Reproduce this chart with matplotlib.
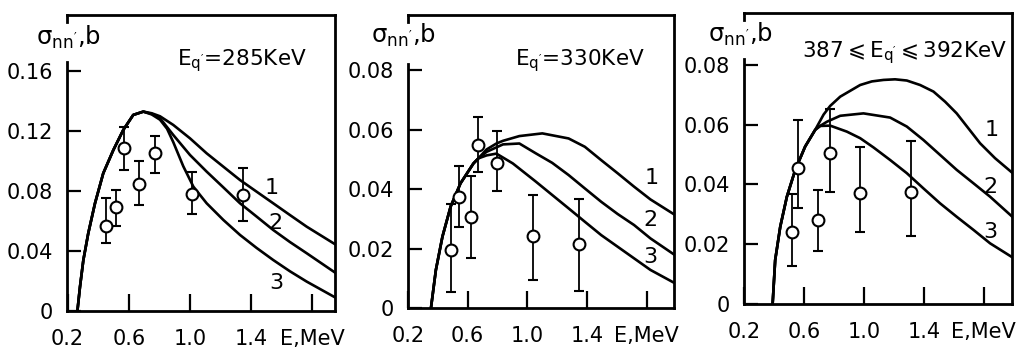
import numpy as np  # для обработки данных
import matplotlib.pyplot as plt  # для построения графиков

plt.rcParams['font.family'] = 'DejaVu Sans'
plt.rcParams['mathtext.fontset'] = 'dejavusans'

# ---- панель 1: E_q' = 285 keV ----
rise1_E = [0.264, 0.281, 0.303, 0.335, 0.379, 0.433, 0.499, 0.564, 0.629, 0.695]
rise1_s = [0.0, 0.0162, 0.034, 0.0518, 0.0718, 0.0918, 0.1073, 0.1207, 0.1307, 0.1329]
c1_1_E = [0.75, 0.804, 0.891, 1.0, 1.109, 1.218, 1.327, 1.436, 1.544, 1.653, 1.763, 1.95]
c1_1_s = [0.1318, 0.1298, 0.124, 0.1151, 0.1051, 0.0962, 0.0873, 0.0795, 0.0718, 0.064, 0.0562, 0.0444]
c1_2_E = [0.75, 0.804, 0.891, 1.0, 1.109, 1.218, 1.327, 1.436, 1.544, 1.653, 1.763, 1.95]
c1_2_s = [0.1314, 0.1285, 0.1173, 0.104, 0.0929, 0.0824, 0.0718, 0.0629, 0.054, 0.046, 0.0385, 0.0255]
c1_3_E = [0.75, 0.804, 0.85, 0.891, 0.956, 1.022, 1.109, 1.218, 1.327, 1.436, 1.544, 1.653, 1.763, 1.95]
c1_3_s = [0.131, 0.1275, 0.1215, 0.1125, 0.0965, 0.0829, 0.0718, 0.0607, 0.0507, 0.042, 0.034, 0.0265, 0.0196, 0.0090]
pt1_E = [0.451, 0.516, 0.571, 0.667, 0.771, 1.011, 1.344]
pt1_s = [0.0567, 0.0691, 0.1089, 0.0847, 0.1051, 0.078, 0.0773]
pt1_hi = [0.0751, 0.0807, 0.1229, 0.1, 0.1169, 0.0929, 0.0951]
pt1_lo = [0.0451, 0.0567, 0.094, 0.0707, 0.0922, 0.0647, 0.0602]
lab1_E = [1.534, 1.556, 1.567]
lab1_s = [0.0818, 0.0584, 0.0189]

# ---- панель 2: E_q' = 330 keV ----
rise2_E = [0.354, 0.387, 0.431, 0.486, 0.552, 0.639, 0.672]
rise2_s = [0.0, 0.0128, 0.024, 0.0341, 0.0419, 0.0486, 0.0503]
c2_1_E = [0.727, 0.793, 0.837, 0.947, 1.101, 1.277, 1.386, 1.496, 1.606, 1.716, 1.826, 1.984]
c2_1_s = [0.0533, 0.0553, 0.0562, 0.0578, 0.0587, 0.057, 0.0542, 0.0497, 0.0453, 0.0408, 0.0365, 0.0315]
c2_2_E = [0.727, 0.837, 0.947, 1.057, 1.167, 1.277, 1.386, 1.496, 1.606, 1.716, 1.826, 1.984]
c2_2_s = [0.0525, 0.055, 0.0553, 0.052, 0.0488, 0.0447, 0.0402, 0.0357, 0.0316, 0.0279, 0.0234, 0.0180]
c2_3_E = [0.727, 0.793, 0.903, 1.057, 1.167, 1.277, 1.386, 1.496, 1.606, 1.716, 1.826, 1.984]
c2_3_s = [0.0513, 0.0519, 0.0486, 0.0425, 0.038, 0.0335, 0.029, 0.0245, 0.0206, 0.0167, 0.0128, 0.0085]
pt2_E = [0.486, 0.541, 0.622, 0.672, 0.8, 1.039, 1.349]
pt2_s = [0.0195, 0.0374, 0.0307, 0.0548, 0.0486, 0.0243, 0.0215]
pt2_hi = [0.0349, 0.0477, 0.0445, 0.0643, 0.0596, 0.038, 0.0365]
pt2_lo = [0.0055, 0.0273, 0.0169, 0.0458, 0.0394, 0.0094, 0.0058]
lab2_E = [1.837, 1.826, 1.826]
lab2_s = [0.0436, 0.0296, 0.0172]

# ---- панель 3: 387 <= E_q' <= 392 keV ----
rise3_E = [0.391, 0.408, 0.442, 0.486, 0.542, 0.608, 0.675]
rise3_s = [0.0, 0.0147, 0.0259, 0.0359, 0.0449, 0.0527, 0.0583]
c3_1_E = [0.731, 0.775, 0.842, 0.975, 1.053, 1.131, 1.208, 1.286, 1.375, 1.464, 1.542, 1.619, 1.697, 1.775, 1.875, 1.988]
c3_1_s = [0.0634, 0.0663, 0.0694, 0.0733, 0.0745, 0.075, 0.0752, 0.0748, 0.0733, 0.0711, 0.0677, 0.0638, 0.0588, 0.0538, 0.0488, 0.0440]
c3_2_E = [0.708, 0.753, 0.842, 0.997, 1.175, 1.286, 1.397, 1.508, 1.619, 1.731, 1.842, 1.988]
c3_2_s = [0.0596, 0.061, 0.063, 0.0638, 0.0624, 0.0594, 0.0549, 0.0499, 0.0449, 0.0404, 0.0359, 0.0293]
c3_3_E = [0.708, 0.775, 0.886, 0.975, 1.064, 1.175, 1.286, 1.397, 1.508, 1.619, 1.731, 1.842, 1.988]
c3_3_s = [0.0596, 0.0597, 0.0577, 0.0555, 0.0524, 0.0482, 0.0438, 0.0387, 0.0337, 0.0292, 0.0248, 0.0203, 0.0157]
pt3_E = [0.519, 0.557, 0.693, 0.771, 0.975, 1.313]
pt3_s = [0.0242, 0.0454, 0.0281, 0.0507, 0.0373, 0.0376]
pt3_hi = [0.0368, 0.0616, 0.0382, 0.0652, 0.0527, 0.0547]
pt3_lo = [0.0127, 0.032, 0.0178, 0.0376, 0.0242, 0.0229]
lab3_E = [1.853, 1.842, 1.842]
lab3_s = [0.0583, 0.0393, 0.0242]

xticks = [0.2, 0.6, 1.0, 1.4, 1.8]
xticklabels = ['0.2', '0.6', '1.0', '1.4', 'E,MeV']
yticks1 = [0, 0.04, 0.08, 0.12, 0.16]
yticks1_lab = ['0', '0.04', '0.08', '0.12', '0.16']
yticks23 = [0, 0.02, 0.04, 0.06, 0.08]
yticks23_lab = ['0', '0.02', '0.04', '0.06', '0.08']

titles = [r"E$_{\mathregular{q'}}$=285KeV",
          r"E$_{\mathregular{q'}}$=330KeV",
          r"387$\leqslant$E$_{\mathregular{q'}}$$\leqslant$392KeV"]
ylab = r"σ$_{\mathregular{nn'}}$,b"

# положение осей в пикселях (лево, верх, право, низ), рисунок 1024x349
W, H = 1024, 349
boxes = [(67, 15, 335, 311), (408, 15, 674, 308), (744, 13, 1012, 304)]
xlims = [(0.196, 1.948), (0.231, 1.984), (0.202, 1.988)]
ylims = [(0, 0.1973), (0, 0.0985), (0, 0.0974)]
ytops = [0.166, 0.082, 0.082]  # до куда идёт левая ось
title_pos = [(0.41, 0.831), (0.402, 0.829), (0.216, 0.849)]
ylab_pos = [(-0.115, 0.899), (-0.138, 0.904), (-0.136, 0.900)]

panels = [
    (rise1_E, rise1_s, [(c1_1_E, c1_1_s), (c1_2_E, c1_2_s), (c1_3_E, c1_3_s)],
     pt1_E, pt1_s, pt1_lo, pt1_hi, lab1_E, lab1_s, yticks1, yticks1_lab),
    (rise2_E, rise2_s, [(c2_1_E, c2_1_s), (c2_2_E, c2_2_s), (c2_3_E, c2_3_s)],
     pt2_E, pt2_s, pt2_lo, pt2_hi, lab2_E, lab2_s, yticks23, yticks23_lab),
    (rise3_E, rise3_s, [(c3_1_E, c3_1_s), (c3_2_E, c3_2_s), (c3_3_E, c3_3_s)],
     pt3_E, pt3_s, pt3_lo, pt3_hi, lab3_E, lab3_s, yticks23, yticks23_lab),
]

fig = plt.figure(figsize=(W / 100, H / 100), dpi=100)

for i, (rE, rs, curves, pE, ps, plo, phi, lE, ls, yt, ytl) in enumerate(panels):
    x0, y0, x1, y1 = boxes[i]
    ax = fig.add_axes([x0 / W, (H - y1) / H, (x1 - x0) / W, (y1 - y0) / H])
    for cE, cs in curves:
        E = np.concatenate([rE, cE])
        s = np.concatenate([rs, cs])
        ax.plot(E, s, color='black', lw=1.9, solid_joinstyle='round', zorder=2)
    ps = np.array(ps)
    yerr = [ps - np.array(plo), np.array(phi) - ps]
    ax.errorbar(pE, ps, yerr=yerr, fmt='o', ms=8.5, mfc='white', mec='black',
                mew=1.5, ecolor='black', elinewidth=1.3, capsize=3.8, capthick=1.3,
                zorder=3)
    for k, (xe, ys) in enumerate(zip(lE, ls)):
        ax.text(xe, ys, str(k + 1), fontsize=16, ha='center', va='center')

    ax.set_xlim(*xlims[i])
    ax.set_ylim(*ylims[i])
    ax.set_xticks(xticks)
    ax.set_xticklabels(xticklabels)
    ax.set_yticks(yt)
    ax.set_yticklabels(ytl)
    ax.tick_params(axis='x', direction='in', length=12, width=1.6, pad=13, labelsize=15)
    ax.tick_params(axis='y', direction='in', length=10, width=1.6, pad=10, labelsize=15)
    for sp in ax.spines.values():
        sp.set_linewidth(2.0)
    ax.spines['left'].set_bounds(0, ytops[i])
    # маленький отросток в левом верхнем углу рамки
    ax.plot([0, 0], [0.975, 1.0], color='black', lw=2.0, transform=ax.transAxes,
            clip_on=False)

    ax.text(*title_pos[i], titles[i], transform=ax.transAxes, fontsize=15.5,
            ha='left', va='baseline')
    ax.text(*ylab_pos[i], ylab, transform=ax.transAxes, fontsize=17.5,
            ha='left', va='baseline')

fig.savefig('out.png', dpi=100)
